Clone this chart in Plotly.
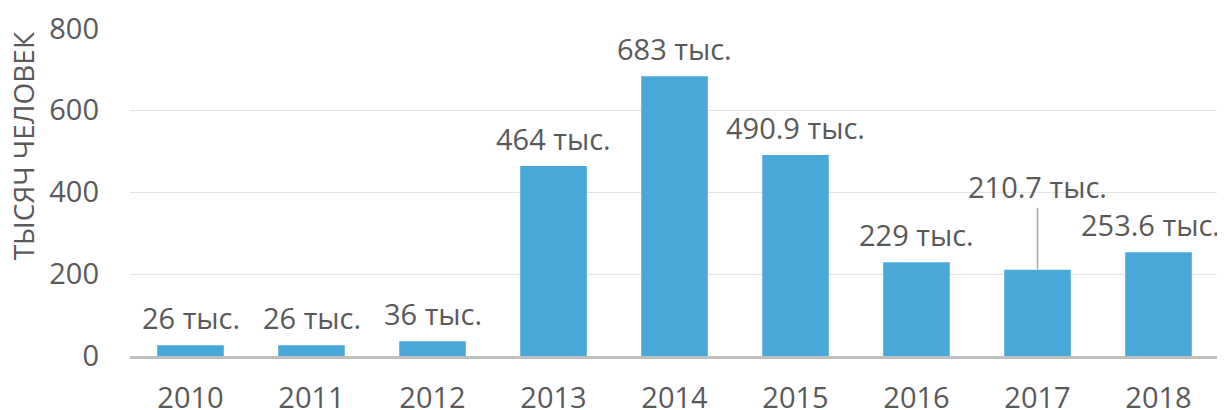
import plotly.graph_objects as go

years = ["2010", "2011", "2012", "2013", "2014", "2015", "2016", "2017", "2018"]
values = [26, 26, 36, 464, 683, 490.9, 229, 210.7, 253.6]
labels = ["26 тыс.", "26 тыс.", "36 тыс.", "464 тыс.", "683 тыс.", "490.9 тыс.",
          "229 тыс.", "210.7 тыс.", "253.6 тыс."]
y_ticks = [0, 200, 400, 600, 800]
y_title = "ТЫСЯЧ ЧЕЛОВЕК"

FONT = "Open Sans"
TXT = "#595959"
BAR = "#49A8DA"
FS = 29

idx = list(range(len(years)))

fig = go.Figure(go.Bar(x=idx, y=values, marker=dict(color=BAR, line=dict(width=0)),
                       hoverinfo="skip"))

annotations = []
for i, yr, v, lab in zip(idx, years, values, labels):
    if yr == "2017":
        annotations.append(dict(x=i, y=v, xref="x", yref="y", text=lab, showarrow=True,
                                ax=0, ay=-83, arrowhead=0, arrowwidth=1.5, arrowcolor="#a6a6a6",
                                font=dict(family=FONT, size=FS, color=TXT)))
    else:
        annotations.append(dict(x=i, y=v, xref="x", yref="y", text=lab, showarrow=False,
                                yanchor="bottom", yshift=6,
                                xshift=-8 if i == len(years) - 1 else 0,
                                font=dict(family=FONT, size=FS, color=TXT)))

annotations.append(dict(x=-0.098, y=0.64, xref="paper", yref="paper", text=y_title,
                        showarrow=False, textangle=-90, xanchor="center", yanchor="middle",
                        font=dict(family=FONT, size=28, color=TXT)))

fig.update_layout(
    width=1225, height=410,
    margin=dict(l=122, r=14, t=20, b=62),
    paper_bgcolor="white", plot_bgcolor="white",
    bargap=0.45,
    showlegend=False,
    annotations=annotations,
    font=dict(family=FONT, size=FS, color=TXT),
)
fig.update_xaxes(range=[-0.5, len(years) - 0.5], tickvals=idx, ticktext=years,
                 showgrid=False, showline=True, linecolor="#bfbfbf", zeroline=False,
                 linewidth=3, ticks="", ticklabelstandoff=14, automargin=False,
                 ticklabeloverflow="allow",
                 tickfont=dict(family=FONT, size=FS, color=TXT))
fig.update_yaxes(range=[0, 801], tickvals=y_ticks, showgrid=True, gridcolor="#e3e3e3",
                 gridwidth=1, zeroline=False, showline=False, ticks="", automargin=False,
                 ticklabelstandoff=30, ticklabeloverflow="allow",
                 tickfont=dict(family=FONT, size=FS, color=TXT))

fig.write_html("out.html")
